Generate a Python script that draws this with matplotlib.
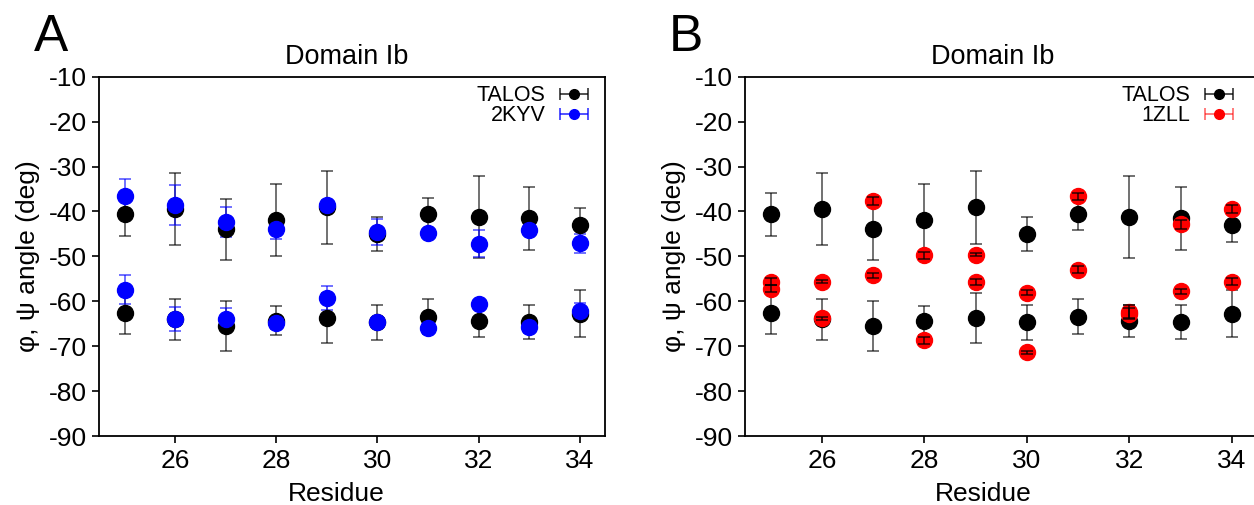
import matplotlib
matplotlib.use("Agg")
import matplotlib.pyplot as plt
from matplotlib.container import ErrorbarContainer
from matplotlib.legend_handler import HandlerErrorbar
import numpy as np

plt.rcParams['font.family'] = ['Liberation Sans', 'DejaVu Sans']
plt.rcParams['axes.unicode_minus'] = False

residues = [25, 26, 27, 28, 29, 30, 31, 32, 33, 34]

# TALOS predictions (psi upper band, phi lower band)
talos_psi = [-40.6, -39.5, -44.0, -41.9, -39.1, -45.0, -40.5, -41.2, -41.5, -43.1]
talos_psi_err = [4.8, 8.0, 6.8, 8.0, 8.2, 3.8, 3.6, 9.2, 7.0, 3.8]
talos_phi = [-62.5, -64.0, -65.5, -64.3, -63.7, -64.7, -63.4, -64.4, -64.7, -62.8]
talos_phi_err = [4.7, 4.6, 5.5, 3.2, 5.6, 3.9, 3.9, 3.5, 3.8, 5.2]

# 2KYV structure
kyv_psi = [-36.6, -38.6, -42.4, -44.0, -38.6, -44.6, -44.8, -47.2, -44.1, -47.1]
kyv_psi_err = [3.9, 4.4, 3.3, 2.1, 1.1, 2.9, 0.5, 3.0, 1.0, 2.1]
kyv_phi = [-57.4, -64.0, -64.0, -64.8, -59.3, -64.6, -66.0, -60.6, -65.8, -62.2]
kyv_phi_err = [3.2, 2.7, 2.5, 1.3, 2.6, 0.5, 0.5, 0.5, 1.3, 1.8]

# 1ZLL structure
zll_psi = [-55.6, -55.6, -37.6, -49.8, -49.6, -58.1, -36.6, -62.3, -42.9, -39.5]
zll_psi_err = [0.7, 0.4, 0.9, 0.7, 0.4, 0.6, 0.8, 1.4, 1.0, 0.9]
zll_phi = [-57.2, -63.8, -54.2, -68.7, -55.7, -71.4, -53.0, -62.8, -57.8, -55.6]
zll_phi_err = [0.8, 0.4, 0.6, 0.8, 0.7, 0.4, 0.8, 1.2, 0.5, 0.7]

fig = plt.figure(figsize=(12.54, 5.05), dpi=100)
axA = fig.add_axes([0.0792, 0.1366, 0.4033, 0.7115])
axB = fig.add_axes([0.5941, 0.1366, 0.4088, 0.7115])

ms = 11.5
fs = 19


def series(ax, y, e, color, ecolor, ealpha, bars_on_top=False):
    if bars_on_top:
        ax.plot(residues, y, 'o', color=color, markersize=ms, zorder=3)
        ax.errorbar(residues, y, yerr=e, fmt='none', ecolor=ecolor,
                    elinewidth=1.2, capsize=4, capthick=1.2, alpha=ealpha,
                    zorder=4)
    else:
        ax.errorbar(residues, y, yerr=e, fmt='none', ecolor=ecolor,
                    elinewidth=1.3, capsize=4, capthick=1.3, alpha=ealpha,
                    zorder=2)
        ax.plot(residues, y, 'o', color=color, markersize=ms, zorder=3)


def proxy(ax, color, ealpha):
    # legend entry: marker with horizontal error bar
    h = ax.errorbar([np.nan], [np.nan], xerr=[1], fmt='o', color=color,
                    markersize=7, elinewidth=1.2, capsize=4, capthick=1.2)
    for ln in list(h.lines[1]) + list(h.lines[2]):
        ln.set_alpha(ealpha)
    return h


def style(ax, xlab_x, title_x):
    ax.set_xlim(24.5, 34.5)
    ax.set_ylim(-90, -10)
    ax.set_xticks([26, 28, 30, 32, 34])
    ax.set_yticks(np.arange(-90, 0, 10))
    ax.tick_params(direction='out', length=5, width=1.2, labelsize=fs,
                   top=False, right=False, pad=4)
    for s in ax.spines.values():
        s.set_linewidth(1.3)
    ax.set_xlabel('Residue', fontsize=fs, labelpad=7)
    ax.xaxis.label.set_x(xlab_x)
    ax.set_ylabel('\u03c6, \u03c8 angle (deg)', fontsize=fs, labelpad=6)
    ax.set_title('Domain Ib', fontsize=19.5, pad=9, x=title_x)


leg_kw = dict(loc='upper right', frameon=False, markerfirst=False,
              fontsize=15.5, handlelength=1.3, handletextpad=0.7,
              labelspacing=-0.05, borderaxespad=0.0,
              handler_map={ErrorbarContainer: HandlerErrorbar(xerr_size=0.65)})

# panel A
series(axA, talos_psi, talos_psi_err, 'black', 'black', 0.6)
series(axA, talos_phi, talos_phi_err, 'black', 'black', 0.6)
series(axA, kyv_psi, kyv_psi_err, 'blue', 'blue', 0.6)
series(axA, kyv_phi, kyv_phi_err, 'blue', 'blue', 0.6)
style(axA, 0.468, 0.49)
hA = [proxy(axA, 'black', 0.8), proxy(axA, 'blue', 0.8)]
axA.legend(hA, ['TALOS', '2KYV'], bbox_to_anchor=(0.984, 1.0), **leg_kw)

# panel B
series(axB, talos_psi, talos_psi_err, 'black', 'black', 0.6)
series(axB, talos_phi, talos_phi_err, 'black', 'black', 0.6)
series(axB, zll_psi, zll_psi_err, 'red', 'black', 0.75, bars_on_top=True)
series(axB, zll_phi, zll_phi_err, 'red', 'black', 0.75, bars_on_top=True)
style(axB, 0.465, 0.484)
hB = [proxy(axB, 'black', 0.8), proxy(axB, 'red', 0.6)]
axB.legend(hB, ['TALOS', '1ZLL'], bbox_to_anchor=(0.969, 1.0), **leg_kw)

fig.text(0.027, 0.975, 'A', fontsize=37, va='top', ha='left')
fig.text(0.533, 0.975, 'B', fontsize=37, va='top', ha='left')

fig.savefig('out.png', dpi=100)
